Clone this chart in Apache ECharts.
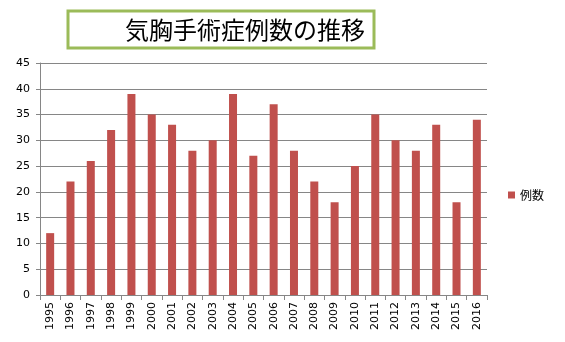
<!DOCTYPE html>
<html><head><meta charset="utf-8">
<script src="https://cdn.jsdelivr.net/npm/echarts@6/dist/echarts.min.js"></script>
<style>html,body{margin:0;padding:0;background:#fff}#c{width:565px;height:342px}</style>
</head><body><div id="c"></div>
<script>
const title = '気胸手術症例数の推移';
const seriesName = '例数';
const years = ['1995','1996','1997','1998','1999','2000','2001','2002','2003','2004','2005','2006','2007','2008','2009','2010','2011','2012','2013','2014','2015','2016'];
const counts = [12,22,26,32,39,35,33,28,30,39,27,37,28,22,18,25,35,30,28,33,18,34];

const chart = echarts.init(document.getElementById('c'), null, {renderer:'canvas'});
chart.setOption({
  animation:false,
  graphic:[
    {type:'rect', shape:{x:68, y:11, width:306, height:37}, style:{fill:'#fff', stroke:'#9bbb59', lineWidth:3}},
    {type:'text', style:{x:245, y:30, text:title, font:'24px "Noto Sans CJK JP"', fill:'#000', align:'center', verticalAlign:'middle'}}
  ],
  legend:{
    data:[seriesName], orient:'vertical', left:503, top:184,
    itemWidth:7, itemHeight:7, itemGap:5, icon:'rect',
    textStyle:{fontSize:12, color:'#000', fontFamily:'"Noto Sans CJK JP"'}
  },
  grid:{left:40, right:78, top:63, bottom:47},
  xAxis:{
    type:'category', data:years, boundaryGap:true,
    axisLine:{lineStyle:{color:'#868686'}},
    axisTick:{show:true, length:5, lineStyle:{color:'#868686'}},
    axisLabel:{rotate:90, fontSize:11, color:'#000', fontFamily:'DejaVu Sans', margin:7, interval:0}
  },
  yAxis:{
    type:'value', min:0, max:45, interval:5,
    axisLine:{show:true, lineStyle:{color:'#868686'}},
    axisTick:{show:true, length:4, lineStyle:{color:'#868686'}},
    splitLine:{lineStyle:{color:'#868686'}},
    axisLabel:{fontSize:11, color:'#000', fontFamily:'DejaVu Sans', margin:10}
  },
  series:[{
    name:seriesName, type:'bar', data:counts, barWidth:8,
    itemStyle:{color:'#c0504d'}
  }]
});
</script></body></html>
